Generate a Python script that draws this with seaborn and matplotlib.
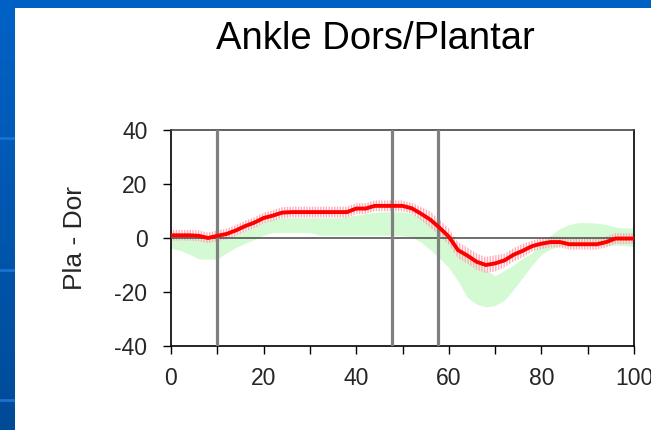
import matplotlib
matplotlib.use("Agg")
import matplotlib.pyplot as plt
import numpy as np
import pandas as pd
import seaborn as sns

# gait cycle % (step 2)
pct = list(range(0, 101, 2))

# patient mean curve (red)
mean_curve = [1, 1, 1, 0.8, 0, 0.8, 1.5, 2.8, 4.4, 5.7,
              7.4, 8.3, 9.4, 9.6, 9.6, 9.6, 9.6, 9.6, 9.6, 9.6,
              10.9, 10.9, 11.9, 11.9, 11.9, 11.9, 11, 9, 6.8, 3.8,
              0.5, -4.5, -6.5, -8.8, -10, -9.4, -8.3, -6.2, -4.7, -3,
              -2.1, -1.5, -1.5, -2.3, -2.3, -2.3, -2.3, -1.5, -0.2, -0.2,
              -0.2]
# patient spread (pink)
spread = [2, 2, 2, 2, 2, 2, 2, 2, 2, 2,
          2, 2, 2, 2, 2, 2, 2, 2, 2, 2,
          2, 2, 2, 2, 2, 2, 2, 2.5, 3, 3,
          3, 3, 3, 3, 3, 3, 2.5, 2.5, 2.5, 2,
          2, 2, 2, 2, 2, 2, 2, 2, 2, 2,
          2]
# normal band (green)
norm_hi = [0, 0, 0, 0, 0, 0, 0.5, 1.5, 3, 4.5,
           6, 7, 7.5, 7.5, 7.5, 7.5, 7.5, 7.5, 7.5, 8,
           8.5, 9, 9.5, 9.7, 9.7, 9.7, 9, 7.5, 5.5, 3,
           -0.5, -4.5, -6.5, -8, -12, -14, -12, -10, -7.5, -5.5,
           -2, 1, 3.5, 5, 5.7, 5.7, 5.5, 5, 4, 3.7,
           3.7]
norm_lo = [-3.8, -4.6, -6, -7.8, -7.8, -7.8, -5.5, -3.5, -2, -0.5,
           1, 2, 2, 2, 2, 2, 1, 1, 1, 1,
           1, 1, 1, 1, 1, 0.8, 0.3, -1.5, -4.4, -7.5,
           -11, -16, -22, -24.5, -25.5, -25, -23, -19, -14.5, -10,
           -6, -4, -3, -3, -3, -3, -3, -2.8, -2.6, -2.8,
           -3.2]
# gait events
events = [10, 47.7, 57.7]

df = pd.DataFrame({"pct": pct, "mean": mean_curve, "sd": spread,
                   "lo": norm_lo, "hi": norm_hi})

sns.set_theme(style="white")
plt.rcParams["font.family"] = ["Liberation Sans", "DejaVu Sans"]
plt.rcParams["axes.unicode_minus"] = False
plt.rcParams["hatch.linewidth"] = 1.0

fig = plt.figure(figsize=(6.51, 4.30), dpi=100)
fig.patch.set_facecolor("white")

# blue slide frame
bar = fig.add_axes([0, 0, 14.5 / 651, 1])
grad = np.linspace(0, 1, 100).reshape(-1, 1)
bar.imshow(grad, aspect="auto", cmap=matplotlib.colors.LinearSegmentedColormap.from_list(
    "frame", ["#0062c6", "#004b98"]))
for yy in [0.32, 0.628, 0.93]:
    bar.axhline(yy * 100 - 0.5, color="#1a72d0", lw=2)
bar.set_axis_off()
topbar = fig.add_axes([0, 1 - 7.5 / 430, 1, 7.5 / 430])
topbar.set_facecolor("#0060c4")
topbar.set_xticks([])
topbar.set_yticks([])
for s in topbar.spines.values():
    s.set_visible(False)

ax = fig.add_axes([171 / 651, 84 / 430, 463 / 651, 216 / 430])

ax.fill_between(df["pct"], df["lo"], df["hi"], color="#d4fad4", lw=0, zorder=1)
ax.fill_between(df["pct"], df["mean"] - df["sd"], df["mean"] + df["sd"],
                facecolor="none", edgecolor="#ffaab4", hatch="|" * 6, lw=0, zorder=2)
ax.axhline(0, color="#555555", lw=1.2, zorder=3)
for ev in events:
    ax.axvline(ev, color="#808080", lw=2.3, zorder=4)
sns.lineplot(data=df, x="pct", y="mean", color="#ff0000", lw=2.8, ax=ax, zorder=5)

ax.set_xlim(0, 100)
ax.set_ylim(-40, 40)
ax.set_xticks(range(0, 101, 20))
ax.set_xticks(range(0, 101, 10), minor=True)
ax.set_yticks([-40, -20, 0, 20, 40])
ax.tick_params(axis="both", which="both", direction="out", color="black",
               labelsize=16.5, width=1, length=6, bottom=True, left=True)
ax.tick_params(axis="x", which="major", pad=9)
ax.tick_params(axis="y", pad=11)
ax.set_xlabel("")
ax.set_ylabel("Pla - Dor", fontsize=19, labelpad=20)
for side in ["left", "bottom", "right"]:
    ax.spines[side].set_color("black")
ax.spines["top"].set_color("#444444")
for s in ax.spines.values():
    s.set_linewidth(1.2)

fig.text(375 / 651, 1 - 49 / 430, "Ankle Dors/Plantar", ha="center",
         va="baseline", fontsize=27.5, color="black")

fig.savefig("out.png", dpi=100, facecolor="white")
